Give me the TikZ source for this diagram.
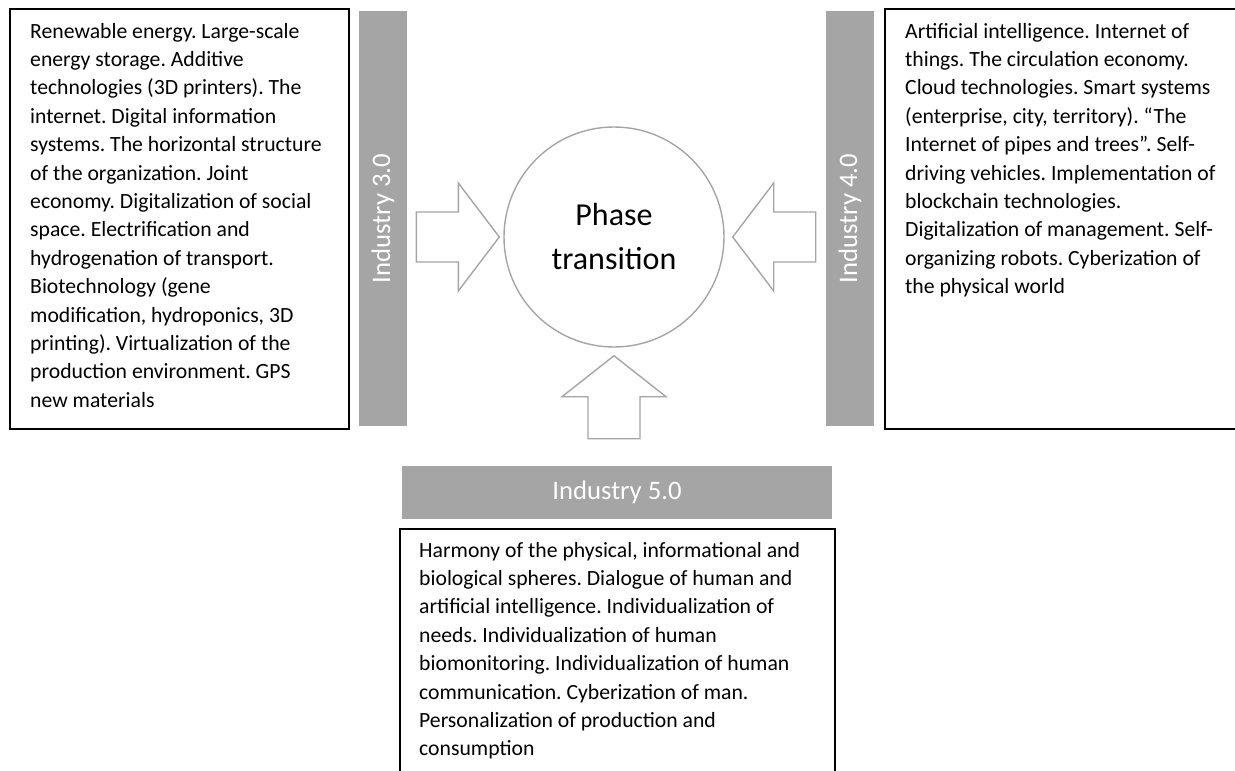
\documentclass[tikz,border=0pt]{standalone}
\usepackage{fontspec}
\setmainfont{Carlito}
\usepackage{tikz}
\definecolor{bargray}{HTML}{A5A5A5}
\frenchspacing

\begin{document}
\begin{tikzpicture}[x=1pt,y=1pt]
                \tikzstyle{every node}+=[inner sep=0pt]
                \tikzstyle{textbox}=[draw=black, line width=1.5pt, anchor=north west]
                \tikzstyle{bar}=[fill=bargray, text=white, font=\fontsize{26.7}{30}\selectfont]
                \tikzstyle{bodytext}=[anchor=base west, align=left, font=\fontsize{21.7}{28.4}\selectfont]
                \tikzstyle{blockarrow}=[draw=bargray, line width=1.4pt, fill=white]
                \useasboundingbox (0,0) rectangle (1235,-771);
                \node [textbox, minimum width=339, minimum height=420] (box3) at (9,-8) {};
                \node [textbox, minimum width=361, minimum height=420] (box4) at (884,-8) {};
                \node [textbox, minimum width=435, minimum height=262] (box5) at (399,-528) {};
                \node [bodytext] (text3) at (30,-407.2) {Renewable energy. Large-scale\\energy storage. Additive\\technologies (3D printers). The\\internet. Digital information\\systems. The horizontal structure\\of the organization. Joint\\economy. Digitalization of social\\space. Electrification and\\hydrogenation of transport.\\Biotechnology (gene\\modification, hydroponics, 3D\\printing). Virtualization of the\\production environment. GPS\\new materials};
                \node [bodytext] (text4) at (905,-293.6) {Artificial intelligence. Internet of\\things. The circulation economy.\\Cloud technologies. Smart systems\\(enterprise, city, territory). “The\\Internet of pipes and trees”. Self-\\driving vehicles. Implementation of\\blockchain technologies.\\Digitalization of management. Self-\\organizing robots. Cyberization of\\the physical world};
                \node [bodytext] (text5) at (419,-755.8) {Harmony of the physical, informational and\\biological spheres. Dialogue of human and\\artificial intelligence. Individualization of\\needs. Individualization of human\\biomonitoring. Individualization of human\\communication. Cyberization of man.\\Personalization of production and\\consumption};
                \node [bar, rotate=90, minimum width=415, minimum height=48] (bar3) at (383,-218.5) {Industry 3.0};
                \node [bar, rotate=90, minimum width=415, minimum height=48] (bar4) at (850,-218.5) {Industry 4.0};
                \node [bar, minimum width=430, minimum height=53] (bar5) at (617,-492.5) {Industry 5.0};
                \node [draw=bargray, line width=1.4pt, circle, minimum size=220, align=center, font=\fontsize{32}{44}\selectfont] (phase) at (614,-237) {Phase\\transition};
                \coordinate (tip3) at ([xshift=-4]phase.west);
                \coordinate (tip4) at ([xshift=8]phase.east);
                \coordinate (tip5) at ([yshift=-8]phase.south);
                \draw [blockarrow] (tip3) -- ++(-41,54) -- ++(0,-29) -- ++(-42,0) -- ++(0,-50) -- ++(42,0) -- ++(0,-29) -- cycle;
                \draw [blockarrow] (tip4) -- ++(41,54) -- ++(0,-29) -- ++(42,0) -- ++(0,-50) -- ++(-42,0) -- ++(0,-29) -- cycle;
                \draw [blockarrow] (tip5) -- ++(-52,-41) -- ++(26,0) -- ++(0,-42) -- ++(52,0) -- ++(0,42) -- ++(26,0) -- cycle;
\end{tikzpicture}
\end{document}
